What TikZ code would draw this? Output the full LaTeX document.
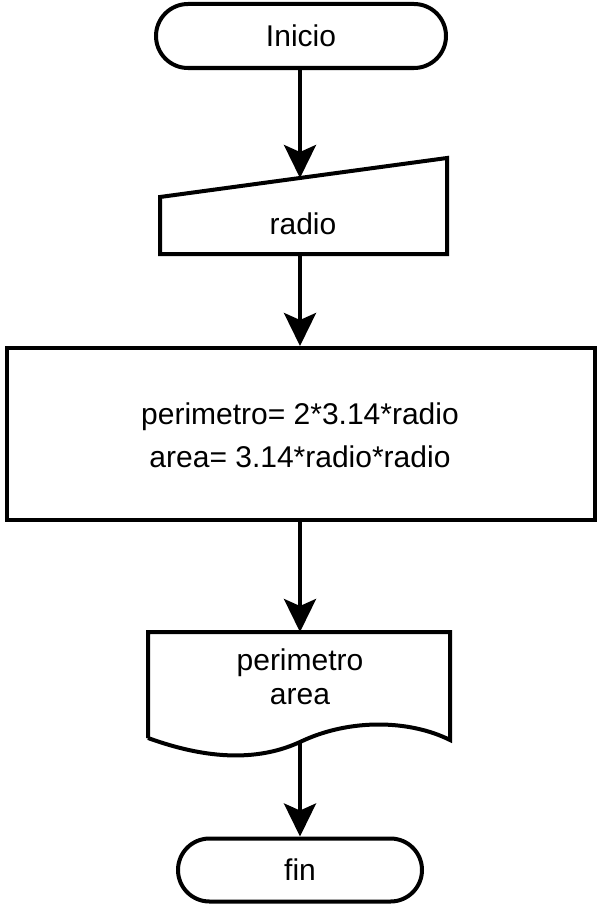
\documentclass[tikz,border=0pt]{standalone}
\usepackage{fontspec}
\setmainfont{Liberation Sans}
\usetikzlibrary{arrows.meta,shapes.misc}
\begin{document}
\begin{tikzpicture}[x=1pt,y=-1pt,
  shapeline/.style={line width=4pt,line join=miter},
  term/.style={shapeline,draw,rounded rectangle,inner sep=0pt},
  lbl/.style={font=\fontsize{30}{34}\selectfont,align=center,inner sep=0pt},
  flow/.style={line width=4pt,-{Stealth[length=33pt,width=32pt,inset=7pt]}}]
\useasboundingbox (0,0) rectangle (600,907);
% Inicio
\node[term,minimum width=290pt,minimum height=64pt] (ini) at (301,36) {};
\node[lbl] at (ini.center) {Inicio};
% manual input
\draw[shapeline] (160,197) -- (447,158) -- (447,254) -- (160,254) -- cycle;
\coordinate (inTop) at (300,178);
\coordinate (inBot) at (300,254);
\node[lbl] (inp) at (303,224) {radio};
% process
\node[shapeline,draw,minimum width=588pt,minimum height=172pt,inner sep=0pt] (proc) at (301,434) {};
\node[lbl,font=\fontsize{30}{43}\selectfont] at (300,435) {perimetro= 2*3.14*radio\\area= 3.14*radio*radio};
% document
\draw[shapeline] (148,738) -- (148,632) -- (450,632) -- (450,740)
  .. controls (410,720) and (350,718) .. (300,742)
  .. controls (250,765) and (195,755) .. (148,738);
\coordinate (docTop) at (300,632);
\coordinate (docBot) at (300,742);
\node[lbl] (doc) at (300,677) {perimetro\\area};
% fin
\node[term,minimum width=244pt,minimum height=63pt] (fin) at (300,870) {};
\node[lbl] at (fin.center) {fin};
% arrows
\draw[flow] (ini.south -| inTop) -- (inTop);
\draw[flow] (inBot) -- (proc.north -| inBot);
\draw[flow] (proc.south -| docTop) -- (docTop);
\draw[flow] (docBot) -- (fin.north -| docBot);
\end{tikzpicture}
\end{document}
